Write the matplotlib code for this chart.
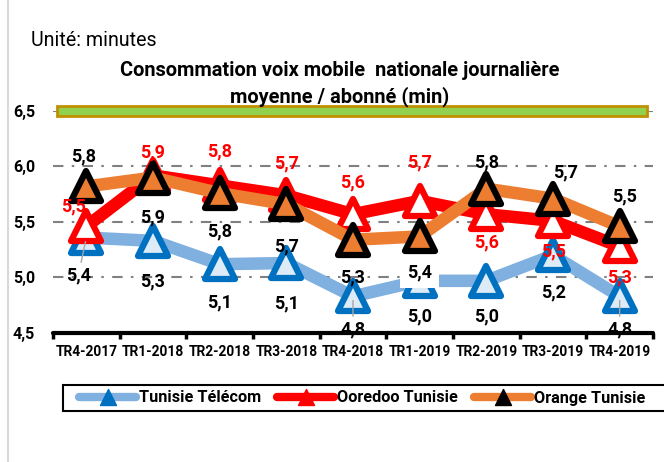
import matplotlib.pyplot as plt
from matplotlib.lines import Line2D
from matplotlib.markers import MarkerStyle
from matplotlib.patches import Rectangle

plt.rcParams['font.family'] = ['Roboto', 'DejaVu Sans']

quarters = ["TR4-2017", "TR1-2018", "TR2-2018", "TR3-2018", "TR4-2018",
            "TR1-2019", "TR2-2019", "TR3-2019", "TR4-2019"]
tunisie_telecom = [5.36, 5.33, 5.12, 5.13, 4.83, 4.97, 4.97, 5.20, 4.83]
ooredoo = [5.46, 5.92, 5.83, 5.74, 5.57, 5.69, 5.57, 5.51, 5.28]
orange = [5.82, 5.90, 5.76, 5.66, 5.34, 5.37, 5.80, 5.71, 5.46]
y_ticks = [4.5, 5.0, 5.5, 6.0, 6.5]

# label offsets in pixels (dx, dy)
tt_off = [(-8, -38), (0, -41), (0, -38), (0, -40), (0, -33), (0, -36), (0, -36), (0, -37), (0, -33)]
oo_off = [(-13, 20), (0, 23), (0, 34), (0, 32), (0, 32), (0, 38), (0, -28), (0, -31), (0, -31)]
or_off = [(-3, 30), (0, -40), (0, -38), (0, -42), (0, -38), (0, -36), (0, 26), (13, 26), (5, 30)]
leader_lines = {("Tunisie Télécom", 0), ("Tunisie Télécom", 4), ("Tunisie Télécom", 8)}

fig = plt.figure(figsize=(6.64, 4.62), dpi=100)
ax = fig.add_axes([53/664, 1-333/462, 600/664, 222/462])
renderer = fig.canvas.get_renderer()


def fit_size(text, weight, target_px, start=10):
    t = fig.text(0, 0, text, fontsize=start, fontweight=weight)
    w = t.get_window_extent(renderer).width
    t.remove()
    return start * target_px / w


label_fs = fit_size("5,8", 'bold', 25)
title_fs = fit_size("Consommation voix mobile  nationale journalière", 'bold', 440)
unit_fs = fit_size("Unité: minutes", 'normal', 126)
legend_fs = fit_size("Tunisie Télécom", 'bold', 122)
xtick_fs = fit_size("TR1-2018", 'bold', 62)
ytick_fs = fit_size("6,0", 'bold', 22)

x = list(range(len(quarters)))
tri = MarkerStyle('^', joinstyle='round')

series = [
    ("Tunisie Télécom", tunisie_telecom, '#7FB0DF', '#0070C0', '#DDEBF7', tt_off, 'black'),
    ("Ooredoo Tunisie", ooredoo, '#FF0000', '#FF0000', 'white', oo_off, '#FF0000'),
    ("Orange Tunisie", orange, '#ED7D31', 'black', '#ED7D31', or_off, 'black'),
]

handles = []
for i, (name, vals, lc, ec, fc, offs, tc) in enumerate(series):
    ax.plot(x, vals, color=lc, lw=9, solid_joinstyle='round', zorder=3 + i)
    ax.plot(x, vals, ls='none', marker=tri, markersize=21, markeredgewidth=4.5,
            markeredgecolor=ec, markerfacecolor=fc, zorder=3 + i)
    handles.append(Line2D([], [], color=lc, lw=6, solid_capstyle='round',
                          marker=tri, markersize=12, markeredgewidth=1,
                          markerfacecolor=ec, markeredgecolor=ec, label=name))
    for j, v in enumerate(vals):
        bbox = None
        if name == "Orange Tunisie" and j == 5:
            bbox = dict(facecolor='white', edgecolor='none', pad=5)
        arrow = None
        if (name, j) in leader_lines:
            arrow = dict(arrowstyle='-', color='#A6A6A6', lw=1, shrinkA=1, shrinkB=3)
        ax.annotate(f"{v:.1f}".replace('.', ','), (j, v), xytext=offs[j],
                    textcoords='offset pixels', ha='center', va='center',
                    fontsize=label_fs, fontweight='bold', color=tc, zorder=10,
                    bbox=bbox, arrowprops=arrow)

ax.set_xlim(-0.5, 8.5)
ax.set_ylim(4.5, 6.5)
ax.set_yticks(y_ticks)
ax.set_yticklabels([f"{t:.1f}".replace('.', ',') for t in y_ticks],
                   fontweight='bold', fontsize=ytick_fs)
ax.set_xticks(x)
ax.set_xticklabels(quarters, fontweight='bold', fontsize=xtick_fs)
ax.set_xticks([i - 0.5 for i in range(len(quarters) + 1)], minor=True)
ax.tick_params(axis='y', length=0, pad=13)
ax.tick_params(axis='x', which='major', length=0, pad=9)
ax.tick_params(axis='x', which='minor', length=4, width=2.5, color='black')

for s in ['left', 'top', 'right']:
    ax.spines[s].set_visible(False)
ax.spines['bottom'].set_linewidth(3)
ax.spines['bottom'].set_capstyle('round')

for t in y_ticks[1:]:
    ax.axhline(t, color='#808080', lw=1.5, ls=(0, (5, 4, 1.2, 4)), zorder=1)

ax.add_patch(Rectangle((0.007, 6.455), 0.983, 0.09, transform=ax.get_yaxis_transform(),
                       facecolor='#92D050', edgecolor='#BF9000', lw=2, zorder=2,
                       clip_on=False))

fig.text(31/664, 1-40/462, "Unité: minutes", fontsize=unit_fs, va='center', ha='left')
fig.text(340/664, 1-71/462, "Consommation voix mobile  nationale journalière",
         fontsize=title_fs, fontweight='bold', ha='center', va='center')
fig.text(340/664, 1-97/462, "moyenne / abonné (min)",
         fontsize=title_fs, fontweight='bold', ha='center', va='center')

fig.add_artist(Line2D([8/664, 8/664], [0, 1], color='#D9D9D9', lw=1.5))

# legend frame runs past the right edge, as in the source
fig.add_artist(Rectangle((63/664, 1-411/462), 610/664, 26/462, transform=fig.transFigure,
                         facecolor='white', edgecolor='black', lw=1.5))
fs_px = legend_fs * 100 / 72
fig.legend(handles=handles, loc='center left', bbox_to_anchor=(79/664, 1-398/462),
           ncol=3, frameon=False, borderaxespad=0, borderpad=0,
           handlelength=57/fs_px, handletextpad=3/fs_px, columnspacing=16/fs_px,
           prop={'weight': 'bold', 'size': legend_fs})

fig.savefig('out.png', dpi=100)
